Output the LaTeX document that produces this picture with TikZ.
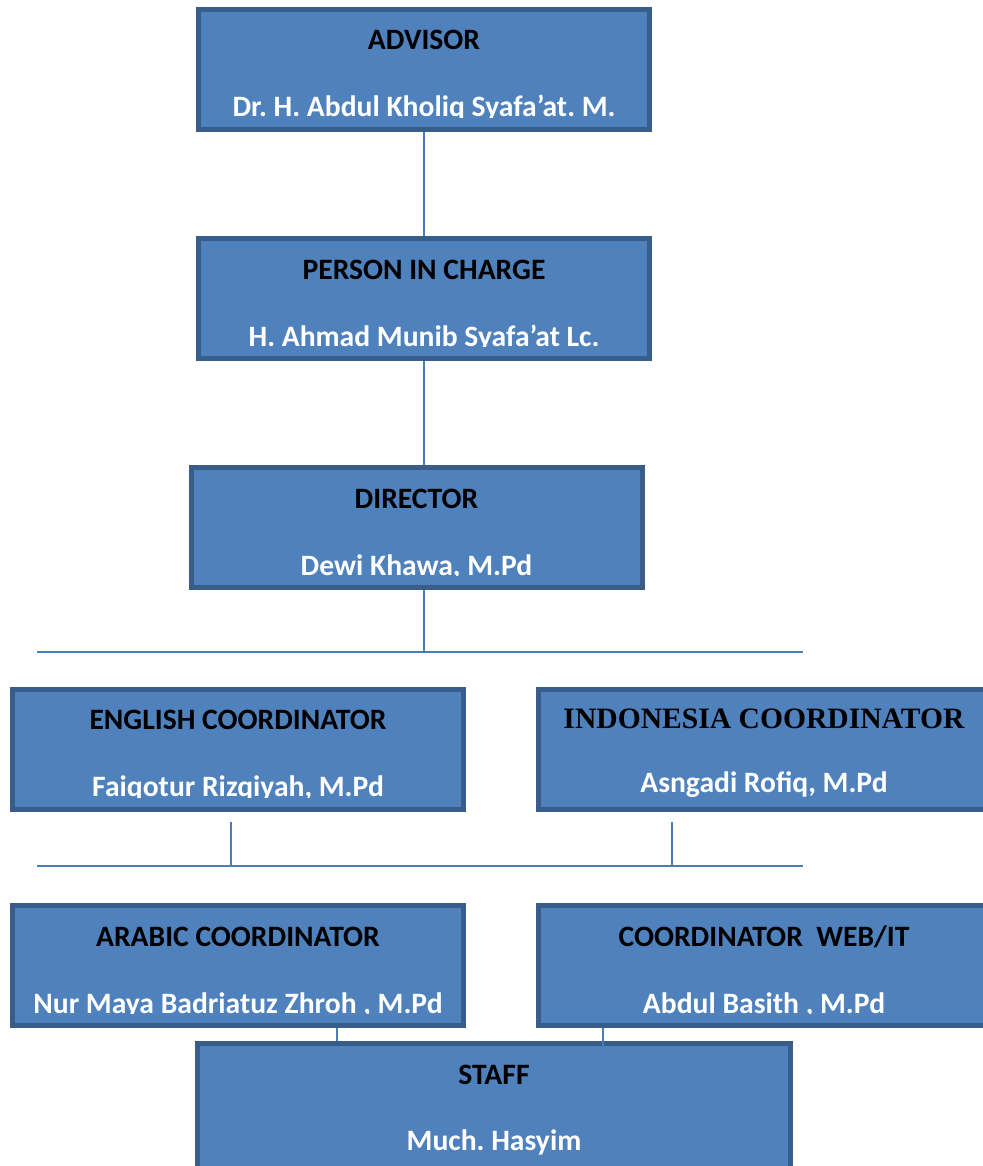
\documentclass[tikz,border=0pt]{standalone}
\usepackage{fontspec}
\setmainfont{Carlito}
\newfontfamily\timesbold{Liberation Serif}
\frenchspacing
\usetikzlibrary{positioning, calc}
\definecolor{boxfill}{HTML}{4F81BD}
\definecolor{boxline}{HTML}{385D8A}
\definecolor{wire}{HTML}{4A7EBB}

\begin{document}
\begin{tikzpicture}[x=0.5pt, y=-0.5pt,
    unit/.style={draw=boxline, fill=boxfill, line width=2.5pt, minimum width=225.5pt, minimum height=60pt, inner sep=0pt},
    title/.style={anchor=base, inner sep=0pt, text=black, font=\fontsize{14.8}{17}\selectfont\bfseries},
    person/.style={anchor=base, inner sep=0pt, text=white, font=\fontsize{14.8}{17}\selectfont\bfseries},
    link/.style={draw=wire, line width=0.75pt}]

    \useasboundingbox (0,0) rectangle (983,1166);
    \clip (0,0) rectangle (983,1166);

    % --- Advisor ---
    \node[unit] (adv) at (424,69.5) {};
    \node[title] (advt) at ([yshift=-21.5pt]adv.north) {ADVISOR};
    \begin{scope}
        \clip (adv.north west) rectangle ([yshift=-55.25pt]adv.north east);
        \node[person] (advn) at ([yshift=-55pt]adv.north) {Dr. H. Abdul Kholiq Syafa’at. M.};
    \end{scope}

    % --- Person in charge ---
    \node[unit] (pic) at (424,298.5) {};
    \node[title] (pict) at ([yshift=-21.5pt]pic.north) {PERSON IN CHARGE};
    \begin{scope}
        \clip (pic.north west) rectangle ([yshift=-55.25pt]pic.north east);
        \node[person] (picn) at ([yshift=-55pt]pic.north) {H. Ahmad Munib Syafa’at Lc.};
    \end{scope}

    % --- Director ---
    \node[unit] (dir) at (416.5,527.5) {};
    \node[title] (dirt) at ([yshift=-21.5pt]dir.north) {DIRECTOR};
    \begin{scope}
        \clip (dir.north west) rectangle ([yshift=-55.25pt]dir.north east);
        \node[person] (dirn) at ([yshift=-55pt]dir.north) {Dewi Khawa, M.Pd};
    \end{scope}

    % --- English coordinator ---
    \node[unit] (eng) at (238,749) {};
    \node[title] (engt) at ([yshift=-21.5pt]eng.north) {ENGLISH COORDINATOR};
    \begin{scope}
        \clip (eng.north west) rectangle ([yshift=-55.25pt]eng.north east);
        \node[person] (engn) at ([yshift=-55pt]eng.north) {Faiqotur Rizqiyah, M.Pd};
    \end{scope}

    % --- Indonesia coordinator ---
    \node[unit] (ind) at (764,749) {};
    \node[title, font=\fontsize{14.8}{17}\selectfont\timesbold\bfseries] (indt) at ([yshift=-21pt]ind.north) {INDONESIA COORDINATOR};
    \begin{scope}
        \clip (ind.north west) rectangle ([yshift=-55.25pt]ind.north east);
        \node[person] (indn) at ([yshift=-53pt]ind.north) {Asngadi Rofiq, M.Pd};
    \end{scope}

    % --- Arabic coordinator ---
    \node[unit] (arb) at (238,965.5) {};
    \node[title] (arbt) at ([yshift=-21.5pt]arb.north) {ARABIC COORDINATOR};
    \begin{scope}
        \clip (arb.north west) rectangle ([yshift=-55.25pt]arb.north east);
        \node[person] (arbn) at ([yshift=-55pt]arb.north) {Nur Maya Badriatuz Zhroh , M.Pd};
    \end{scope}

    % --- Web/IT coordinator ---
    \node[unit] (web) at (764,965.5) {};
    \node[title] (webt) at ([yshift=-21.5pt]web.north) {COORDINATOR\ \ WEB/IT};
    \begin{scope}
        \clip (web.north west) rectangle ([yshift=-55.25pt]web.north east);
        \node[person] (webn) at ([yshift=-55pt]web.north) {Abdul Basith , M.Pd};
    \end{scope}

    % --- Staff ---
    \node[unit, minimum width=296.5pt, minimum height=70pt] (stf) at (494,1113.5) {};
    \node[title] (stft) at ([yshift=-21.5pt]stf.north) {STAFF};
    \node[person] (stfn) at ([yshift=-54.75pt]stf.north) {Much. Hasyim};

    % --- Bus lines ---
    \coordinate (busAw) at (37,652);
    \coordinate (busAe) at (803,652);
    \coordinate (busBw) at (37,866);
    \coordinate (busBe) at (803,866);
    \draw[link] (busAw) -- (busAe);
    \draw[link] (busBw) -- (busBe);

    % --- Connectors ---
    \draw[link] (adv.south) -- (pic.north);
    \draw[link] (pic.south) -- (pic.south |- dir.north);
    \draw[link] (pic.south |- dir.south) -- (pic.south |- busAw);
    % stubs under the coordinators
    \coordinate (engstub) at ([xshift=-3.5pt, yshift=-5.25pt]eng.south);
    \coordinate (indstub) at ([xshift=-46pt, yshift=-5.25pt]ind.south);
    \draw[link] (engstub) -- (engstub |- busBw);
    \draw[link] (indstub) -- (indstub |- busBw);
    % into the staff box
    \draw[link] ([xshift=49.5pt]arb.south) -- ([xshift=49.5pt]arb.south |- stf.north);
    \draw[link] ([xshift=-80.5pt]web.south) -- ([xshift=-80.5pt, yshift=-4pt]web.south |- stf.north);

\end{tikzpicture}
\end{document}
